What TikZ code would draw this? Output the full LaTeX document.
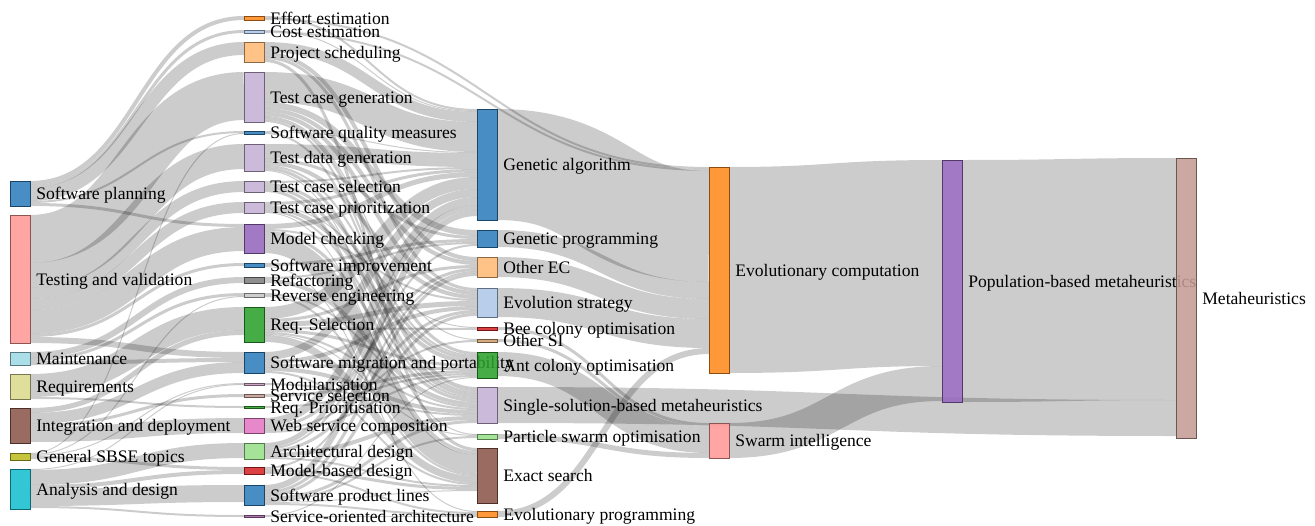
\documentclass[tikz,border=0pt]{standalone}
\usepackage{fontspec}
\setmainfont{Liberation Serif}
\usetikzlibrary{calc}

\definecolor{tblue}{HTML}{2F7EBC}
\definecolor{tlblue}{HTML}{AEC7E8}
\definecolor{torange}{HTML}{FF8A1E}
\definecolor{tlorange}{HTML}{FFBB78}
\definecolor{tgreen}{HTML}{2CA02C}
\definecolor{tlgreen}{HTML}{98DF8A}
\definecolor{tred}{HTML}{D62728}
\definecolor{tpink}{HTML}{FF9896}
\definecolor{tpurple}{HTML}{9467BD}
\definecolor{tlpurple}{HTML}{C5B0D5}
\definecolor{tbrown}{HTML}{8C564B}
\definecolor{tlbrown}{HTML}{C49C94}
\definecolor{tmagenta}{HTML}{E377C2}
\definecolor{tgray}{HTML}{7F7F7F}
\definecolor{tlgray}{HTML}{C7C7C7}
\definecolor{tolive}{HTML}{BCBD22}
\definecolor{tlolive}{HTML}{DBDB8D}
\definecolor{tcyan}{HTML}{17BECF}
\definecolor{tlcyan}{HTML}{9EDAE5}
\definecolor{tmauve}{HTML}{C79BBF}
\definecolor{ttan}{HTML}{D0A070}
\definecolor{tplum}{HTML}{A568A5}

\pgfdeclarelayer{flows}
\pgfsetlayers{flows,main}

\tikzset{
  skbar/.style={rectangle, inner sep=0pt, outer sep=0pt, minimum width=4mm, line width=0.3pt, fill opacity=0.88},
  sklabel/.style={anchor=base west, inner sep=0pt, font=\rmfamily\fontsize{10}{12}\selectfont, text=black},
  flowline/.style={draw=black, draw opacity=0.2, line cap=butt}
}

% name, x, top, height, colour, text
\newcommand{\sknode}[6]{%
  \node[skbar, fill=#5, draw=#5!55!black, minimum height=#4*0.2mm, anchor=north west] (#1) at (#2,#3) {};
  \node[sklabel] (#1-l) at ([xshift=1.2mm, yshift=-0.35em]#1.east) {#6};
}
% [bend], source, offset, target, offset, width
\newcommand{\flow}[6][107]{%
  \draw[flowline, line width=#6*0.2mm] ($(#2.north east)+(0,#3+#6/2)$) .. controls +(#1,0) and +(-#1,0) .. ($(#4.north west)+(0,#5+#6/2)$);
}

\begin{document}
\begin{tikzpicture}[x=0.2mm, y=-0.2mm]
  \useasboundingbox (0,0) rectangle (1315,526);

  \sknode{sp}{10}{181}{25}{tblue}{Software planning}
  \sknode{tv}{10}{215}{128}{tpink}{Testing and validation}
  \sknode{mt}{10}{352}{13}{tlcyan}{Maintenance}
  \sknode{rq}{10}{374}{25}{tlolive}{Requirements}
  \sknode{ind}{10}{408}{35}{tbrown}{Integration and deployment}
  \sknode{gs}{10}{453}{7}{tolive}{General SBSE topics}
  \sknode{ad}{10}{469}{40}{tcyan}{Analysis and design}

  \sknode{effort}{244}{16}{4}{torange}{Effort estimation}
  \sknode{cost}{244}{30}{3}{tlblue}{Cost estimation}
  \sknode{psch}{244}{42}{20}{tlorange}{Project scheduling}
  \sknode{tcg}{244}{72}{50}{tlpurple}{Test case generation}
  \sknode{sqm}{244}{131}{3}{tblue}{Software quality measures}
  \sknode{tdg}{244}{144}{27}{tlpurple}{Test data generation}
  \sknode{tcs}{244}{181}{11}{tlpurple}{Test case selection}
  \sknode{tcp}{244}{202}{11}{tlpurple}{Test case prioritization}
  \sknode{mc}{244}{224}{29}{tpurple}{Model checking}
  \sknode{simp}{244}{263}{4}{tblue}{Software improvement}
  \sknode{refac}{244}{277}{6}{tgray}{Refactoring}
  \sknode{reveng}{244}{293}{4}{tlgray}{Reverse engineering}
  \sknode{rsel}{244}{307}{35}{tgreen}{Req. Selection}
  \sknode{smig}{244}{352}{21}{tblue}{Software migration and portability}
  \sknode{modul}{244}{383}{2}{tmauve}{Modularisation}
  \sknode{ssel}{244}{394}{3}{tlbrown}{Service selection}
  \sknode{rprio}{244}{406}{2}{tgreen}{Req. Prioritisation}
  \sknode{wsc}{244}{418}{15}{tmagenta}{Web service composition}
  \sknode{archd}{244}{443}{16}{tlgreen}{Architectural design}
  \sknode{mbd}{244}{467}{7}{tred}{Model-based design}
  \sknode{spl}{244}{485}{20}{tblue}{Software product lines}
  \sknode{soa}{244}{515}{2}{tplum}{Service-oriented architecture}

  \sknode{ga}{477}{109}{111}{tblue}{Genetic algorithm}
  \sknode{gp}{477}{230}{17}{tblue}{Genetic programming}
  \sknode{oec}{477}{257}{20}{tlorange}{Other EC}
  \sknode{es}{477}{288}{29}{tlblue}{Evolution strategy}
  \sknode{bee}{477}{327}{3}{tred}{Bee colony optimisation}
  \sknode{osi}{477}{339}{3}{ttan}{Other SI}
  \sknode{ant}{477}{352}{26}{tgreen}{Ant colony optimisation}
  \sknode{ss}{477}{387}{36}{tlpurple}{Single-solution-based metaheuristics}
  \sknode{pso}{477}{434}{5}{tlgreen}{Particle swarm optimisation}
  \sknode{ex}{477}{448}{55}{tbrown}{Exact search}
  \sknode{ep}{477}{511}{6}{torange}{Evolutionary programming}

  \sknode{ec}{709}{167}{206}{torange}{Evolutionary computation}
  \sknode{si}{709}{423}{35}{tpink}{Swarm intelligence}

  \sknode{pbm}{942}{160}{242}{tpurple}{Population-based metaheuristics}

  \sknode{meta}{1176}{158}{280}{tlbrown}{Metaheuristics}

  \begin{pgfonlayer}{flows}
    \flow{sp}{0}{effort}{0}{4}
    \flow{sp}{4}{cost}{0}{3}
    \flow{sp}{7}{psch}{0}{13}
    \flow{sp}{20}{sqm}{0}{2}
    \flow{sp}{22}{mc}{0}{3}
    \flow{tv}{0}{tcg}{0}{48}
    \flow{tv}{48}{tdg}{0}{25}
    \flow{tv}{73}{tcs}{0}{11}
    \flow{tv}{84}{tcp}{0}{11}
    \flow{tv}{95}{mc}{3}{24}
    \flow{tv}{119}{simp}{0}{3}
    \flow{tv}{122}{smig}{0}{6}
    \flow{mt}{0}{refac}{0}{6}
    \flow{mt}{6}{reveng}{0}{3}
    \flow{mt}{9}{smig}{6}{4}
    \flow{rq}{0}{rsel}{0}{23}
    \flow{rq}{23}{rprio}{0}{2}
    \flow{ind}{0}{rsel}{23}{5}
    \flow{ind}{5}{smig}{10}{11}
    \flow{ind}{16}{ssel}{0}{3}
    \flow{ind}{19}{wsc}{0}{15}
    \flow{gs}{0}{sqm}{2}{1}
    \flow{gs}{1}{reveng}{3}{1}
    \flow{gs}{2}{modul}{0}{1}
    \flow{gs}{3}{mbd}{0}{3}
    \flow{ad}{0}{modul}{1}{1}
    \flow{ad}{1}{archd}{0}{15}
    \flow{ad}{16}{mbd}{3}{4}
    \flow{ad}{20}{spl}{0}{17}
    \flow{ad}{37}{soa}{0}{2}

    \flow{effort}{0}{ga}{0}{2}
    \flow[222]{effort}{2}{ec}{0}{2}
    \flow{cost}{0}{ga}{2}{1}
    \flow[222]{cost}{1}{ec}{2}{2}
    \flow{psch}{0}{ga}{3}{10}
    \flow{psch}{10}{oec}{0}{4}
    \flow{psch}{14}{es}{0}{3}
    \flow{psch}{17}{ex}{0}{3}
    \flow{tcg}{0}{ga}{13}{30}
    \flow{tcg}{30}{gp}{0}{6}
    \flow{tcg}{36}{oec}{4}{4}
    \flow{tcg}{40}{es}{3}{4}
    \flow{tcg}{44}{osi}{0}{1}
    \flow{tcg}{45}{ant}{0}{3}
    \flow{tcg}{48}{ss}{0}{2}
    \flow{sqm}{0}{ga}{43}{1}
    \flow{sqm}{1}{ss}{2}{2}
    \flow{tdg}{0}{ga}{44}{14}
    \flow{tdg}{14}{gp}{6}{3}
    \flow{tdg}{17}{es}{7}{4}
    \flow{tdg}{21}{ant}{3}{2}
    \flow{tdg}{23}{ss}{4}{3}
    \flow{tdg}{26}{pso}{0}{1}
    \flow{tcs}{0}{ga}{58}{2}
    \flow{tcs}{2}{ant}{5}{3}
    \flow{tcs}{5}{ss}{7}{3}
    \flow{tcs}{8}{ex}{3}{3}
    \flow{tcp}{0}{ga}{60}{3}
    \flow{tcp}{3}{bee}{0}{1}
    \flow{tcp}{4}{ant}{8}{4}
    \flow{tcp}{8}{ss}{10}{2}
    \flow{tcp}{10}{ex}{6}{1}
    \flow{mc}{0}{ga}{63}{5}
    \flow{mc}{5}{es}{11}{2}
    \flow{mc}{7}{ss}{12}{3}
    \flow{mc}{10}{ex}{7}{19}
    \flow{simp}{0}{gp}{9}{3}
    \flow{simp}{3}{ep}{0}{1}
    \flow{refac}{0}{gp}{12}{2}
    \flow{refac}{2}{ss}{15}{4}
    \flow{reveng}{0}{ss}{19}{2}
    \flow{reveng}{2}{ex}{26}{2}
    \flow{rsel}{0}{ga}{68}{12}
    \flow{rsel}{12}{oec}{8}{3}
    \flow{rsel}{15}{es}{13}{5}
    \flow{rsel}{20}{bee}{1}{2}
    \flow{rsel}{22}{ant}{12}{3}
    \flow{rsel}{25}{ss}{21}{2}
    \flow{rsel}{27}{pso}{1}{1}
    \flow{rsel}{28}{ex}{28}{7}
    \flow{smig}{0}{ga}{80}{8}
    \flow{smig}{8}{es}{18}{4}
    \flow{smig}{12}{ant}{15}{3}
    \flow{smig}{15}{ss}{23}{4}
    \flow{smig}{19}{ex}{35}{2}
    \flow{modul}{0}{ss}{27}{2}
    \flow{ssel}{0}{ant}{18}{3}
    \flow{rprio}{0}{ant}{21}{2}
    \flow{wsc}{0}{ga}{88}{8}
    \flow{wsc}{8}{oec}{11}{3}
    \flow{wsc}{11}{osi}{1}{2}
    \flow{wsc}{13}{ant}{23}{2}
    \flow{archd}{0}{ga}{96}{5}
    \flow{archd}{5}{gp}{14}{2}
    \flow{archd}{7}{es}{22}{3}
    \flow{archd}{10}{ss}{29}{4}
    \flow{archd}{14}{ex}{37}{2}
    \flow{mbd}{0}{oec}{14}{2}
    \flow{mbd}{2}{ex}{39}{3}
    \flow{mbd}{5}{ep}{1}{2}
    \flow{spl}{0}{ga}{101}{6}
    \flow{spl}{6}{oec}{16}{3}
    \flow{spl}{9}{es}{25}{3}
    \flow{spl}{12}{ss}{33}{3}
    \flow{spl}{15}{pso}{2}{2}
    \flow{spl}{17}{ex}{42}{1}
    \flow{spl}{18}{ep}{3}{2}
    \flow{soa}{0}{ant}{25}{1}
    \flow{soa}{1}{ep}{5}{1}

    \flow{ga}{0}{ec}{4}{111}
    \flow{gp}{0}{ec}{115}{17}
    \flow{oec}{0}{ec}{132}{20}
    \flow{es}{0}{ec}{152}{29}
    \flow{ep}{0}{ec}{181}{6}
    \flow{bee}{0}{si}{0}{3}
    \flow{osi}{0}{si}{3}{3}
    \flow{ant}{0}{si}{6}{24}
    \flow{pso}{0}{si}{30}{5}

    \flow{ec}{0}{pbm}{0}{206}
    \flow{si}{0}{pbm}{206}{35}
    \flow{pbm}{0}{meta}{0}{242}
    \flow[340]{ss}{0}{meta}{242}{36}
  \end{pgfonlayer}
\end{tikzpicture}
\end{document}
